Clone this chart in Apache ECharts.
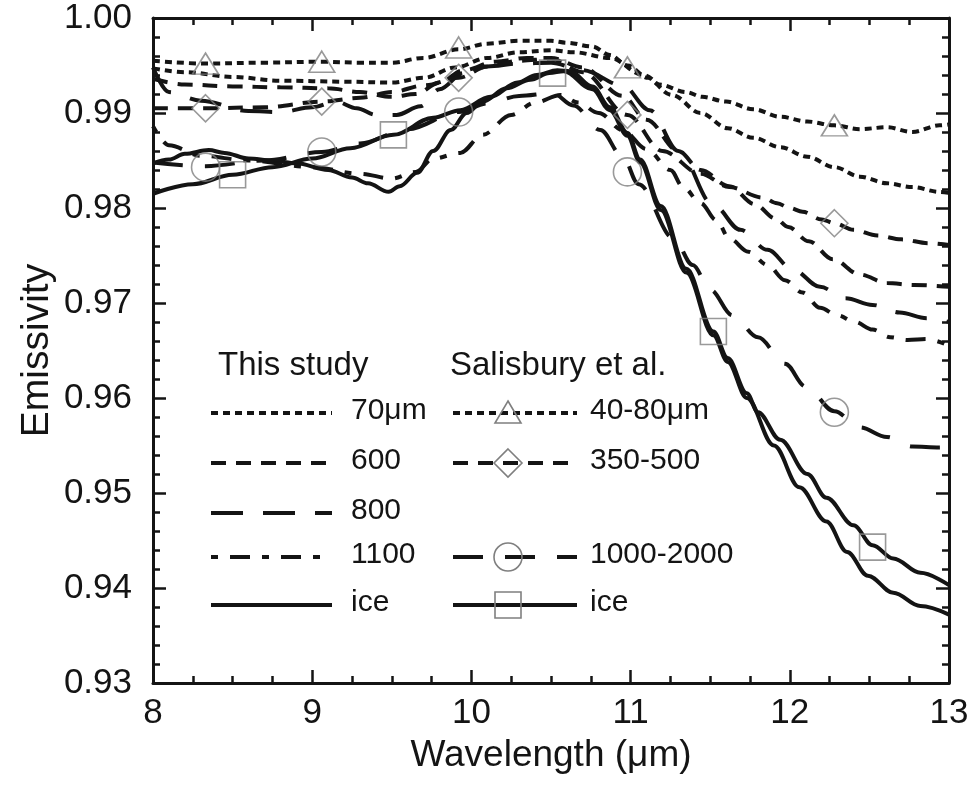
<!DOCTYPE html>
<html><head><meta charset="utf-8">
<script src="https://cdn.jsdelivr.net/npm/echarts@6/dist/echarts.min.js"></script>
<style>html,body{margin:0;padding:0;background:#fff}#c{width:974px;height:785px}</style>
</head><body><div id="c"></div>
<script>
// ---- data ----
const xTicks = [8, 9, 10, 11, 12, 13];
const yTicks = [0.93, 0.94, 0.95, 0.96, 0.97, 0.98, 0.99, 1.00];

// This study
const s70 = [[8.0,0.9947],[8.2,0.9943],[8.5,0.9938],[8.8,0.9934],[9.2,0.9933],[9.5,0.9932],[9.7,0.9937],[9.9,0.9948],[10.1,0.9958],[10.3,0.9964],[10.5,0.9966],[10.64,0.9964],[10.87,0.9958],[11.08,0.9940],[11.26,0.9919],[11.44,0.9900],[11.61,0.9884],[11.77,0.9874],[11.94,0.9864],[12.11,0.9854],[12.28,0.9843],[12.44,0.9833],[12.61,0.9826],[12.77,0.9822],[12.94,0.9817],[13.0,0.9816]];
const s600 = [[8.0,0.9936],[8.2,0.9930],[8.5,0.9928],[8.8,0.9927],[9.1,0.9926],[9.3,0.9922],[9.5,0.9917],[9.65,0.9920],[9.8,0.9932],[9.95,0.9945],[10.15,0.9954],[10.35,0.9958],[10.5,0.9958],[10.7,0.9948],[10.95,0.9918],[11.1,0.9893],[11.3,0.9860],[11.44,0.9840],[11.62,0.9823],[11.78,0.9804],[11.91,0.9789],[11.99,0.9780],[12.12,0.9765],[12.27,0.9746],[12.44,0.9730],[12.61,0.9721],[12.78,0.9719],[13.0,0.9717]];
const s800 = [[8.0,0.9948],[8.1,0.9922],[8.3,0.9913],[8.6,0.9902],[8.8,0.9901],[9.0,0.9906],[9.15,0.9912],[9.28,0.9905],[9.4,0.9898],[9.53,0.9898],[9.68,0.9907],[9.8,0.9925],[9.95,0.9942],[10.1,0.9949],[10.3,0.9952],[10.5,0.9953],[10.7,0.9945],[10.95,0.9929],[11.12,0.9903],[11.3,0.9860],[11.52,0.9803],[11.69,0.9777],[11.86,0.9756],[12.02,0.9735],[12.19,0.9717],[12.35,0.9705],[12.52,0.9698],[12.69,0.9690],[12.86,0.9684],[13.0,0.9680]];
const s1100 = [[8.0,0.9886],[8.1,0.9866],[8.3,0.9855],[8.6,0.9850],[9.0,0.9843],[9.3,0.9836],[9.5,0.9831],[9.65,0.9838],[9.76,0.9852],[9.93,0.9858],[10.07,0.9877],[10.25,0.9898],[10.4,0.9911],[10.56,0.9919],[10.67,0.9911],[10.8,0.9900],[10.95,0.9882],[11.1,0.9862],[11.25,0.9840],[11.33,0.9822],[11.44,0.9805],[11.54,0.9787],[11.62,0.9768],[11.74,0.9754],[11.86,0.9740],[11.97,0.9724],[12.08,0.9711],[12.19,0.9695],[12.3,0.9687],[12.41,0.9680],[12.52,0.9672],[12.63,0.9664],[12.74,0.9661],[12.86,0.9662],[13.0,0.9655]];
const sIce = [[8.0,0.9847],[8.1,0.9851],[8.2,0.9857],[8.35,0.9861],[8.45,0.9858],[8.6,0.9852],[8.75,0.9850],[8.9,0.9847],[9.1,0.9840],[9.25,0.9832],[9.35,0.9826],[9.48,0.9817],[9.55,0.9823],[9.66,0.9837],[9.76,0.9860],[9.87,0.9882],[9.97,0.9900],[10.07,0.9912],[10.22,0.9926],[10.37,0.9935],[10.49,0.9942],[10.58,0.9944],[10.76,0.9925],[10.87,0.9903],[10.98,0.9876],[11.06,0.9848],[11.19,0.9798],[11.35,0.9732],[11.52,0.9666],[11.61,0.9638],[11.73,0.9600],[11.9,0.9550],[12.06,0.9506],[12.23,0.9470],[12.36,0.9438],[12.49,0.9413],[12.65,0.9395],[12.82,0.9381],[13.0,0.9372]];

// Salisbury et al.
const sal40 = [[8.0,0.9955],[8.33,0.9952],[8.7,0.9953],[9.06,0.9954],[9.3,0.9953],[9.5,0.9953],[9.7,0.9958],[9.92,0.9967],[10.1,0.9973],[10.3,0.9976],[10.5,0.9976],[10.6,0.9974],[10.76,0.9970],[10.87,0.9961],[10.98,0.9950],[11.11,0.9937],[11.18,0.9930],[11.35,0.9922],[11.45,0.9917],[11.6,0.9912],[11.77,0.9904],[11.94,0.9896],[12.11,0.9891],[12.28,0.9887],[12.44,0.9883],[12.61,0.9885],[12.77,0.9880],[12.94,0.9887],[13.0,0.9888]];
const sal350 = [[8.0,0.9905],[8.33,0.9905],[8.7,0.9906],[9.06,0.9912],[9.3,0.9916],[9.5,0.9922],[9.7,0.9929],[9.92,0.9937],[10.1,0.9949],[10.3,0.9955],[10.5,0.9957],[10.7,0.9943],[10.98,0.9898],[11.2,0.9860],[11.44,0.9836],[11.62,0.9822],[11.83,0.9811],[11.92,0.9805],[12.0,0.9800],[12.08,0.9796],[12.2,0.9788],[12.28,0.9784],[12.4,0.9777],[12.55,0.9771],[12.7,0.9767],[12.87,0.9763],[13.0,0.9761]];
const sal1000 = [[8.0,0.9848],[8.33,0.9844],[8.7,0.9850],[9.06,0.9859],[9.3,0.9868],[9.6,0.9883],[9.92,0.9901],[10.1,0.9910],[10.3,0.9918],[10.51,0.9921],[10.64,0.9908],[10.81,0.9882],[10.95,0.9854],[11.05,0.9825],[11.27,0.9768],[11.39,0.9740],[11.5,0.9714],[11.64,0.9687],[11.8,0.9664],[11.97,0.9636],[12.1,0.9612],[12.28,0.9586],[12.44,0.9569],[12.61,0.9559],[12.77,0.9549],[12.94,0.9548],[13.0,0.9549]];
const salIce = [[8.0,0.9815],[8.25,0.9825],[8.5,0.9835],[8.75,0.9843],[9.0,0.9852],[9.24,0.9863],[9.51,0.9877],[9.76,0.9895],[9.93,0.9903],[10.12,0.9917],[10.29,0.9932],[10.41,0.9940],[10.54,0.9945],[10.62,0.9944],[10.76,0.9928],[10.87,0.9906],[10.98,0.9879],[11.06,0.9851],[11.19,0.9802],[11.35,0.9736],[11.52,0.9670],[11.61,0.9642],[11.73,0.9605],[11.8,0.9585],[11.94,0.9556],[12.11,0.9520],[12.23,0.9495],[12.4,0.9466],[12.52,0.9445],[12.65,0.9431],[12.82,0.9416],[13.0,0.9403]];

// Salisbury marker points
const triPts = [[8.33,0.9952],[9.06,0.9954],[9.92,0.9969],[10.98,0.9948],[12.28,0.9887]];
const diaPts = [[8.33,0.9905],[9.06,0.9912],[9.92,0.9937],[10.98,0.9898],[12.28,0.9784]];
const cirPts = [[8.33,0.9843],[9.06,0.9859],[9.92,0.9901],[10.98,0.9838],[12.28,0.9585]];
const sqPts  = [[8.50,0.9835],[9.51,0.9877],[10.51,0.9942],[11.52,0.9670],[12.52,0.9443]];

// legend labels
const studyLabels = ['70μm', '600', '800', '1100', 'ice'];
const salLabels = ['40-80μm', '350-500', '', '1000-2000', 'ice'];

// ---- styling ----
const FONT = '"Liberation Sans", Arial, Helvetica, sans-serif';
const INK = '#141414';
const MARK = '#7f7f7f';
const D70 = [7, 5], D600 = [15, 10], D800 = [32, 20], D1100 = [7, 12, 20, 12], D1000 = [30, 22];
const LW = 4;

function lineSeries(name, data, dash, w) {
  return { name, type: 'line', data, symbol: 'none', showSymbol: false,
    smooth: 0.35, smoothMonotone: 'x', silent: true,
    lineStyle: { color: INK, width: w || LW, type: dash || 'solid', cap: 'butt' }, z: 3 };
}
function markSeries(name, data, symbol, size) {
  return { name, type: 'scatter', data, symbol, symbolSize: size, silent: true,
    itemStyle: { color: 'rgba(0,0,0,0)', borderColor: MARK, borderWidth: 1.6 }, z: 4 };
}

const chart = echarts.init(document.getElementById('c'), null, { renderer: 'canvas' });

const commonX = { type: 'value', min: 8, max: 13, interval: 1 };
const commonY = { type: 'value', min: 0.93, max: 1.0, interval: 0.01 };
const axLine = { show: true, lineStyle: { color: INK, width: 3 } };
const tickX = { show: true, inside: true, length: 13, lineStyle: { color: INK, width: 2.5 } };
const minorX = { show: true, splitNumber: 4, length: 7, lineStyle: { color: INK, width: 2.5 } };
const minorY = { show: true, splitNumber: 5, length: 7, lineStyle: { color: INK, width: 2.5 } };

// legend graphics
const rowsY = [413, 463, 513, 557, 605];
const studyDash = [D70, D600, D800, D1100, null];
const salDash = [D70, D600, null, D1000, null];
const salSym = ['tri', 'dia', null, 'cir', 'sq'];
const LEGF = '30px ' + FONT;
const g = [];
g.push({ type: 'text', left: 218, top: 349, style: { text: 'This study', font: '33px ' + FONT, fill: INK } });
g.push({ type: 'text', left: 450, top: 349, style: { text: 'Salisbury et al.', font: '33px ' + FONT, fill: INK } });
rowsY.forEach((y, i) => {
  g.push({ type: 'line', shape: { x1: 211, y1: y, x2: 332, y2: y },
    style: { stroke: INK, lineWidth: 4, lineDash: studyDash[i] || null } });
  g.push({ type: 'text', left: 351, top: y - 17, style: { text: studyLabels[i], font: LEGF, fill: INK } });
  if (salSym[i]) {
    g.push({ type: 'line', shape: { x1: 453, y1: y, x2: 577, y2: y },
      style: { stroke: INK, lineWidth: 4, lineDash: salDash[i] || null } });
    const cx = 508, st = { fill: 'rgba(0,0,0,0)', stroke: MARK, lineWidth: 1.6 };
    if (salSym[i] === 'tri') g.push({ type: 'polygon', shape: { points: [[cx, y - 12], [cx + 13, y + 10], [cx - 13, y + 10]] }, style: st });
    if (salSym[i] === 'dia') g.push({ type: 'polygon', shape: { points: [[cx, y - 14], [cx + 14, y], [cx, y + 14], [cx - 14, y]] }, style: st });
    if (salSym[i] === 'cir') g.push({ type: 'circle', shape: { cx, cy: y, r: 14 }, style: st });
    if (salSym[i] === 'sq') g.push({ type: 'rect', shape: { x: cx - 13, y: y - 13, width: 26, height: 26 }, style: st });
    g.push({ type: 'text', left: 590, top: y - 17, style: { text: salLabels[i], font: LEGF, fill: INK } });
  }
});

chart.setOption({
  animation: false,
  backgroundColor: '#fff',
  grid: { left: 153, right: 25, top: 18, bottom: 102, containLabel: false },
  xAxis: [
    Object.assign({}, commonX, { position: 'bottom', name: 'Wavelength (μm)', nameLocation: 'middle', nameGap: 54,
      nameMoveOverlap: false,
      nameTextStyle: { fontFamily: FONT, fontSize: 37, color: INK },
      axisLine: axLine, axisTick: tickX, minorTick: minorX, splitLine: { show: false },
      axisLabel: { show: true, margin: 13, fontFamily: FONT, fontSize: 35, color: INK } }),
    Object.assign({}, commonX, { position: 'top', axisLine: axLine, axisTick: tickX, minorTick: minorX,
      splitLine: { show: false }, axisLabel: { show: false } })
  ],
  yAxis: [
    Object.assign({}, commonY, { position: 'left', name: 'Emissivity', nameLocation: 'middle', nameGap: 96, nameRotate: 90,
      nameMoveOverlap: false,
      nameTextStyle: { fontFamily: FONT, fontSize: 39, color: INK },
      axisLine: axLine, axisTick: tickX, minorTick: minorY, splitLine: { show: false },
      axisLabel: { show: true, margin: 21, fontFamily: FONT, fontSize: 35, color: INK, formatter: v => v.toFixed(2) } }),
    Object.assign({}, commonY, { position: 'right', axisLine: axLine, axisTick: tickX, minorTick: minorY,
      splitLine: { show: false }, axisLabel: { show: false } })
  ],
  graphic: g,
  series: [
    lineSeries('70μm', s70, D70),
    lineSeries('600', s600, D600),
    lineSeries('800', s800, D800),
    lineSeries('1100', s1100, D1100),
    lineSeries('ice (this study)', sIce, 'solid'),
    lineSeries('40-80μm', sal40, D70),
    lineSeries('350-500', sal350, D600),
    lineSeries('1000-2000', sal1000, D1000),
    lineSeries('ice (Salisbury)', salIce, 'solid'),
    markSeries('tri', triPts, 'triangle', [26, 21]),
    markSeries('dia', diaPts, 'diamond', [27, 27]),
    markSeries('cir', cirPts, 'circle', 28),
    markSeries('sq', sqPts, 'rect', 26)
  ]
});
</script></body></html>
